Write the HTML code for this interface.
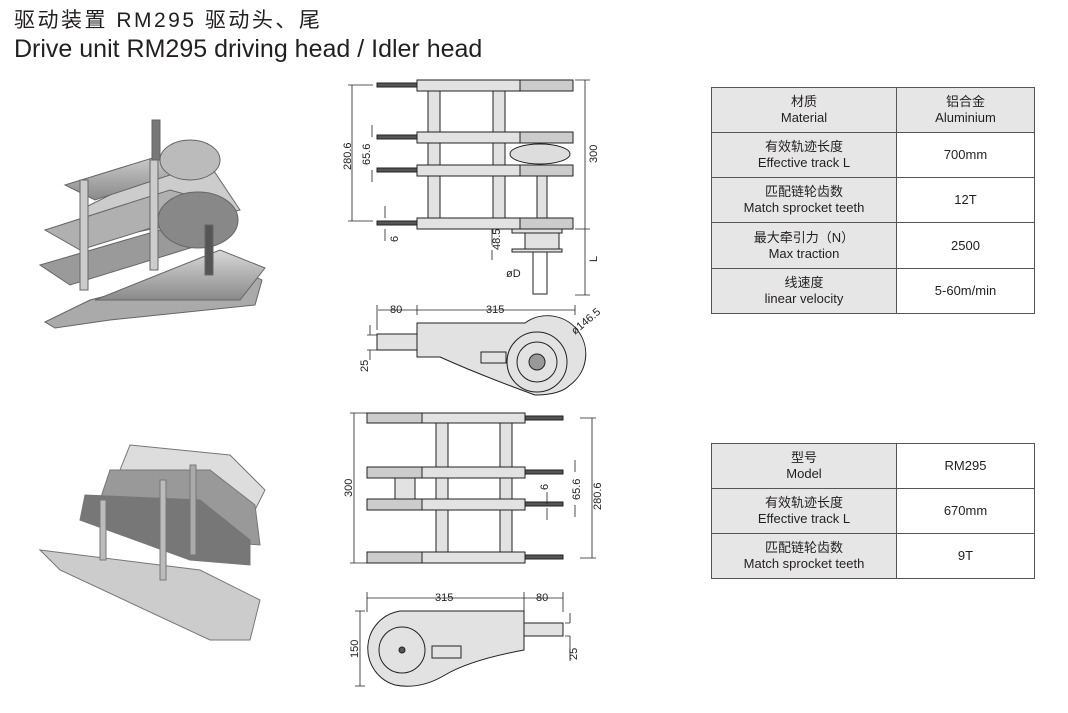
<!DOCTYPE html>
<html><head><meta charset="utf-8"><style>
body{margin:0;width:1068px;height:713px;background:#fff;overflow:hidden;position:relative;font-family:"Liberation Sans","Noto Sans CJK SC",sans-serif;color:#231f20}
.t1{position:absolute;left:14px;top:4px;font-size:21px;letter-spacing:2.5px}
.t2{position:absolute;left:14px;top:35px;font-size:25px}
table{position:absolute;border-collapse:collapse;font-size:13px;text-align:center}
td{border:1px solid #555;line-height:16px;padding:0}
td.h{background:#e6e6e6;width:184px}
td.v{width:137px}
</style></head><body>
<div class="t1">驱动装置 RM295 驱动头、尾</div>
<div class="t2">Drive unit RM295 driving head / Idler head</div>

<table style="left:711px;top:87px">
<tr style="height:45px"><td class="h">材质<br>Material</td><td class="v" style="background:#e6e6e6">铝合金<br>Aluminium</td></tr>
<tr style="height:45px"><td class="h">有效轨迹长度<br>Effective track L</td><td class="v">700mm</td></tr>
<tr style="height:45px"><td class="h">匹配链轮齿数<br>Match sprocket teeth</td><td class="v">12T</td></tr>
<tr style="height:46px"><td class="h">最大牵引力（N）<br>Max traction</td><td class="v">2500</td></tr>
<tr style="height:45px"><td class="h">线速度<br>linear velocity</td><td class="v">5-60m/min</td></tr>
</table>
<table style="left:711px;top:443px">
<tr style="height:45px"><td class="h">型号<br>Model</td><td class="v">RM295</td></tr>
<tr style="height:45px"><td class="h">有效轨迹长度<br>Effective track L</td><td class="v">670mm</td></tr>
<tr style="height:45px"><td class="h">匹配链轮齿数<br>Match sprocket teeth</td><td class="v">9T</td></tr>
</table>

<svg width="1068" height="713" style="position:absolute;left:0;top:0" font-family="Liberation Sans" font-size="11" fill="#222">
<defs><linearGradient id="g" x1="0" y1="0" x2="0" y2="1"><stop offset="0" stop-color="#d8d8d8"/><stop offset="1" stop-color="#8a8a8a"/></linearGradient></defs>
<g stroke="#666" stroke-width="1">
<polygon points="45,322 90,300 230,265 262,280 255,305 110,320 55,328" fill="#aaa"/>
<polygon points="95,300 220,250 265,268 240,300" fill="url(#g)"/>
<polygon points="80,210 200,150 240,210 100,240" fill="#ccc"/>
<polygon points="65,185 185,148 215,160 95,200" fill="url(#g)"/>
<polygon points="45,230 170,190 225,205 80,250" fill="#b0b0b0"/>
<polygon points="40,265 160,230 200,245 70,285" fill="#9a9a9a"/>
<ellipse cx="198" cy="220" rx="40" ry="28" fill="#888"/>
<ellipse cx="190" cy="160" rx="30" ry="20" fill="#bbb"/>
<rect x="152" y="120" width="8" height="40" fill="#777"/>
<rect x="205" y="225" width="8" height="50" fill="#555"/>
<rect x="80" y="180" width="8" height="110" fill="#ccc"/>
<rect x="150" y="160" width="8" height="110" fill="#ccc"/>
</g>
<g stroke="#777" stroke-width="1">
<polygon points="130,445 230,455 265,490 250,520 175,500 120,470" fill="#ddd"/>
<polygon points="110,470 210,470 255,505 260,545 200,540 100,500" fill="#999"/>
<polygon points="85,495 200,500 250,540 250,565 190,560 80,520" fill="#777"/>
<polygon points="40,550 200,570 260,600 250,640 210,640 60,570" fill="#ccc"/>
<rect x="160" y="480" width="6" height="100" fill="#bbb"/>
<rect x="100" y="500" width="6" height="60" fill="#bbb"/>
<rect x="190" y="465" width="6" height="90" fill="#aaa"/>
</g>
<g stroke="#222" stroke-width="1" fill="#e2e2e2">
<rect x="428" y="88" width="12" height="134"/><rect x="493" y="88" width="12" height="134"/>
<rect x="417" y="80" width="156" height="11"/><rect x="417" y="132" width="156" height="11"/>
<rect x="417" y="165" width="156" height="11"/><rect x="417" y="218" width="156" height="11"/>
<rect x="520" y="80" width="53" height="11" fill="#ccc"/><rect x="520" y="132" width="53" height="11" fill="#ccc"/>
<rect x="520" y="165" width="53" height="11" fill="#ccc"/><rect x="520" y="218" width="53" height="11" fill="#ccc"/>
<ellipse cx="540" cy="154" rx="30" ry="10" fill="#ddd"/>
<rect x="377" y="83" width="40" height="4" fill="#555"/><rect x="377" y="135" width="40" height="4" fill="#555"/>
<rect x="377" y="168" width="40" height="4" fill="#555"/><rect x="377" y="221" width="40" height="4" fill="#555"/>
<rect x="537" y="176" width="10" height="42"/>
<rect x="512" y="229" width="50" height="4"/><rect x="525" y="233" width="34" height="16"/>
<rect x="512" y="249" width="50" height="3"/><rect x="533" y="252" width="14" height="42" fill="#fff"/>
<path d="M417 323 H525 A36 36 0 0 1 570 385 Q560 395 535 395 Q480 375 440 357 H417 Z"/>
<rect x="377" y="334" width="40" height="16"/>
<circle cx="537" cy="362" r="30" fill="none"/><circle cx="537" cy="362" r="20" fill="none"/><circle cx="537" cy="362" r="8" fill="#999"/>
<rect x="481" y="352" width="25" height="11"/>
<rect x="436" y="418" width="12" height="140"/><rect x="500" y="418" width="12" height="140"/>
<rect x="367" y="413" width="158" height="10"/><rect x="367" y="467" width="158" height="11"/>
<rect x="367" y="499" width="158" height="11"/><rect x="367" y="552" width="158" height="11"/>
<rect x="367" y="413" width="55" height="10" fill="#ccc"/><rect x="367" y="467" width="55" height="11" fill="#ccc"/>
<rect x="367" y="499" width="55" height="11" fill="#ccc"/><rect x="367" y="552" width="55" height="11" fill="#ccc"/>
<rect x="395" y="478" width="20" height="21"/>
<rect x="525" y="416" width="38" height="4" fill="#555"/><rect x="525" y="470" width="38" height="4" fill="#555"/>
<rect x="525" y="502" width="38" height="4" fill="#555"/><rect x="525" y="555" width="38" height="4" fill="#555"/>
<path d="M400 611 H524 V650 Q470 660 445 675 Q420 690 395 685 A38 38 0 0 1 400 611 Z"/>
<rect x="524" y="623" width="39" height="13"/>
<circle cx="402" cy="650" r="23" fill="none"/><circle cx="402" cy="650" r="3" fill="#555"/>
<rect x="432" y="646" width="29" height="12"/>
</g>
<g stroke="#222" stroke-width="0.8" fill="none">
<path d="M352 85 V221 M348 85h25 M348 221h25 M372 137 v-12 M372 170v12 M385 229v12 M385 218v-12 M492 229v16 M492 250v10"/>
<path d="M585 80 V295 M575 80h15 M575 229h15 M575 295h15"/>
<path d="M378 310 H575 M377 305v25 M417 305v10 M575 305v10 M367 335h10 M367 350h10 M370 335v-10 M370 350v10"/>
<path d="M354 413 V563 M350 413h20 M350 563h20 M592 418V558 M580 418h16 M580 558h16 M575 472v-12 M575 505v12 M547 504v-12 M547 508v12"/>
<path d="M367 598H563 M367 592v20 M524 592v20 M563 592v20 M360 611V686 M355 611h10 M355 686h10 M570 623h-5 M570 636h-5 M570 623v-10 M570 636v25"/>
</g>
<g font-size="11">
<text x="351" y="170" transform="rotate(-90 351 170)">280.6</text>
<text x="370" y="165" transform="rotate(-90 370 165)">65.6</text>
<text x="398" y="242" transform="rotate(-90 398 242)">6</text>
<text x="500" y="250" transform="rotate(-90 500 250)">48.5</text>
<text x="597" y="163" transform="rotate(-90 597 163)">300</text>
<text x="597" y="262" transform="rotate(-90 597 262)">L</text>
<text x="506" y="277">øD</text>
<text x="390" y="313">80</text><text x="486" y="313">315</text>
<text x="575" y="335" transform="rotate(-40 575 335)">ø146.5</text>
<text x="368" y="372" transform="rotate(-90 368 372)">25</text>
<text x="352" y="497" transform="rotate(-90 352 497)">300</text>
<text x="601" y="510" transform="rotate(-90 601 510)">280.6</text>
<text x="580" y="500" transform="rotate(-90 580 500)">65.6</text>
<text x="548" y="490" transform="rotate(-90 548 490)">6</text>
<text x="435" y="601">315</text><text x="536" y="601">80</text>
<text x="358" y="658" transform="rotate(-90 358 658)">150</text>
<text x="577" y="660" transform="rotate(-90 577 660)">25</text>
</g>
</svg>
</body></html>
